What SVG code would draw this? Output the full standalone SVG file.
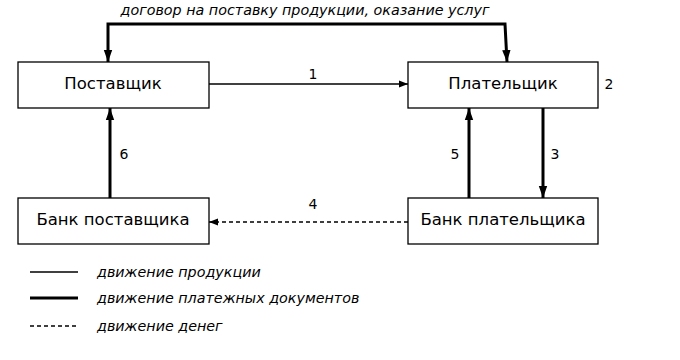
<svg xmlns="http://www.w3.org/2000/svg" width="680" height="360" viewBox="0 0 680 360">
<style>
.box{fill:#fff;stroke:#000;stroke-width:1.3}
.lbl{font-family:"DejaVu Sans",sans-serif;font-size:16.5px;fill:#000;text-anchor:middle;dominant-baseline:central}
.num{font-family:"DejaVu Sans",sans-serif;font-size:14px;fill:#000;text-anchor:middle;dominant-baseline:central}
.it{font-family:"DejaVu Sans",sans-serif;font-size:14.3px;font-style:italic;fill:#000;dominant-baseline:central}
.thin{stroke:#000;stroke-width:1.3;fill:none}
.thick{stroke:#000;stroke-width:3;fill:none}
.dash{stroke:#000;stroke-width:1.3;fill:none;stroke-dasharray:4 3}
</style>
<defs>
<marker id="ah" viewBox="0 0 10 10" refX="10" refY="5" markerWidth="10" markerHeight="9" markerUnits="userSpaceOnUse" orient="auto"><path d="M0,1 L10,5 L0,9 z" fill="#000"/></marker>
<marker id="ahb" viewBox="0 0 10 10" refX="10" refY="5" markerWidth="4" markerHeight="4" orient="auto-start-reverse"><path d="M0,1.5 L10,5 L0,8.5 z" fill="#000"/></marker>
</defs>
<text class="it" x="305" y="10" text-anchor="middle">договор на поставку продукции, оказание услуг</text>
<g id="connectors">
<path class="thick" d="M108,62 L108,24 L505,24 L507,62" marker-start="url(#ahb)" marker-end="url(#ahb)"/>
<line class="thin" x1="209" y1="84" x2="408" y2="84" marker-end="url(#ah)"/>
<line class="thick" x1="110" y1="198" x2="110" y2="108" marker-end="url(#ahb)"/>
<line class="thick" x1="469" y1="198" x2="469" y2="108" marker-end="url(#ahb)"/>
<line class="thick" x1="543" y1="108" x2="543" y2="198" marker-end="url(#ahb)"/>
<line class="dash" x1="408" y1="222" x2="209" y2="222" marker-end="url(#ah)"/>
<text class="num" x="313" y="74">1</text>
<text class="num" x="609" y="84">2</text>
<text class="num" x="555" y="154">3</text>
<text class="num" x="313" y="204">4</text>
<text class="num" x="455" y="154">5</text>
<text class="num" x="124" y="154">6</text>
</g>
<g id="supplier"><rect class="box" x="18" y="62" width="191" height="46"/><text class="lbl" x="113" y="83">Поставщик</text></g>
<g id="payer"><rect class="box" x="408" y="62" width="190" height="46"/><text class="lbl" x="503" y="83">Плательщик</text></g>
<g id="supplier-bank"><rect class="box" x="18" y="198" width="191" height="46"/><text class="lbl" x="113" y="219">Банк поставщика</text></g>
<g id="payer-bank"><rect class="box" x="408" y="198" width="190" height="46"/><text class="lbl" x="503" y="219">Банк плательщика</text></g>
<g id="legend">
<line class="thin" x1="30" y1="272" x2="78" y2="272"/>
<line class="thick" x1="30" y1="298" x2="78" y2="298"/>
<line class="dash" x1="30" y1="326" x2="78" y2="326"/>
<text class="it" x="97" y="272">движение продукции</text>
<text class="it" x="97" y="298">движение платежных документов</text>
<text class="it" x="97" y="326">движение денег</text>
</g>
</svg>
